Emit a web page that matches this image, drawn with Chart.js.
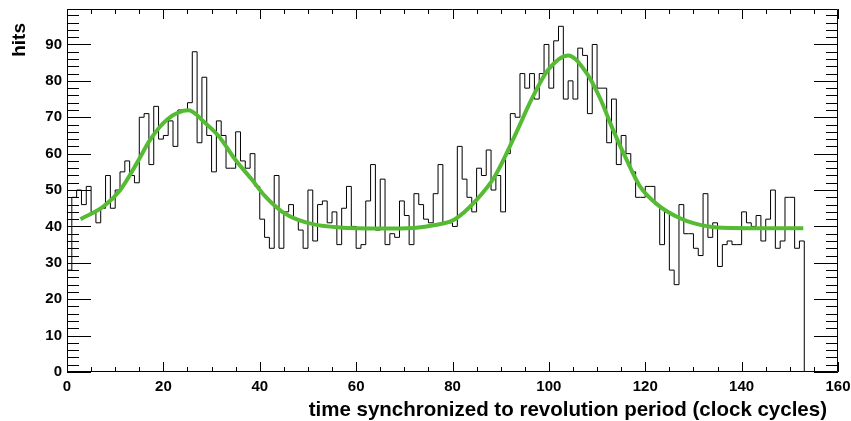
<!DOCTYPE html>
<html>
<head>
<meta charset="utf-8">
<script src="https://cdn.jsdelivr.net/npm/chart.js@4.4.1/dist/chart.umd.min.js"></script>
<style>
  html, body { margin: 0; padding: 0; background: #fff; }
</style>
</head>
<body>
<canvas id="hits" width="851" height="421"></canvas>
<script>
// hits per clock-cycle bin (bin i covers [i, i+1))
const counts = [
  21, 28, 48, 50, 46, 51, 44, 41, 45, 54,
  45, 50, 55, 58, 54, 52, 70, 71, 57, 73,
  64, 65, 69, 62, 72, 72, 74, 88, 63, 81,
  65, 55, 69, 65, 56, 56, 66, 58, 56, 60,
  51, 42, 37, 34, 54, 34, 44, 46, 42, 39,
  34, 50, 36, 46, 47, 41, 44, 35, 45, 51,
  40, 34, 35, 47, 57, 39, 53, 35, 38, 37,
  47, 43, 35, 49, 46, 42, 41, 49, 57, 41,
  41, 40, 62, 53, 48, 44, 56, 54, 61, 50,
  54, 44, 60, 71, 70, 82, 78, 82, 75, 82,
  90, 78, 91, 95, 75, 80, 75, 89, 87, 71,
  90, 78, 78, 63, 75, 57, 65, 60, 55, 48,
  48, 51, 51, 46, 35, 44, 28, 24, 46, 38,
  38, 34, 32, 49, 37, 41, 29, 35, 36, 35,
  35, 44, 41, 40, 43, 36, 42, 50, 34, 36,
  48, 48, 34, 36
];

// fitted curve
const fitX = [2.8, 7.6, 11.1, 14.5, 17.3, 20.8, 25.2, 28.7, 31.5, 34.9, 38.4, 41.1, 44.6, 48, 51.5, 56, 65, 72,
  76.4, 80.5, 84.7, 88.8, 92.9, 96.4, 99.9, 104, 107.8, 110.6, 113.3, 116.1, 118.9, 123, 127.1, 130, 135, 145, 152.8];
const fitY = [42.0, 45.5, 50.1, 57.4, 63.9, 69.4, 71.9, 68.4, 64.8, 58.4, 52.8, 48.3, 44.1, 41.8, 40.5, 39.8, 39.4, 39.6,
  40.4, 42.0, 46.9, 53.8, 64.8, 74.9, 83.1, 87.0, 82.2, 75.3, 66.6, 58.4, 51.0, 45.5, 42.3, 40.9, 39.7, 39.5, 39.5];

const xTicks = [0, 20, 40, 60, 80, 100, 120, 140, 160];
const yTicks = [0, 10, 20, 30, 40, 50, 60, 70, 80, 90];

const histPoints = counts.map((v, i) => ({x: i, y: v}));
histPoints.push({x: counts.length, y: 0});
const fitPoints = fitX.map((x, i) => ({x: x, y: fitY[i]}));

const FONT = '"Liberation Sans", Arial, Helvetica, sans-serif';

// ROOT-like frame with ticks on all four sides, plus axis titles
const frame = {
  id: 'frame',
  afterDatasetsDraw(chart) {
    const {ctx, chartArea: a, scales: {x, y}} = chart;
    ctx.save();
    ctx.strokeStyle = '#000';
    ctx.lineWidth = 1;
    ctx.beginPath();
    ctx.rect(Math.round(a.left) + 0.5, Math.round(a.top) + 0.5,
             Math.round(a.width) - 1, Math.round(a.height) - 1);
    for (let v = 0; v <= 160; v += 5) {
      const px = Math.round(x.getPixelForValue(v)) + 0.5;
      const len = v % 20 === 0 ? 10 : 5;
      ctx.moveTo(px, a.bottom); ctx.lineTo(px, a.bottom - len);
      ctx.moveTo(px, a.top); ctx.lineTo(px, a.top + len);
    }
    for (let v = 0; v <= 98; v += 2) {
      const py = Math.round(y.getPixelForValue(v)) + 0.5;
      const len = v % 10 === 0 ? 24 : 12;
      ctx.moveTo(a.left, py); ctx.lineTo(a.left + len, py);
      ctx.moveTo(a.right, py); ctx.lineTo(a.right - len, py);
    }
    ctx.stroke();

    ctx.fillStyle = '#000';
    ctx.textAlign = 'right';
    ctx.textBaseline = 'alphabetic';
    ctx.font = 'bold 20.5px ' + FONT;
    ctx.fillText('time synchronized to revolution period (clock cycles)', 827, 416);

    ctx.font = 'bold 19px ' + FONT;
    ctx.translate(25, 23);
    ctx.rotate(-Math.PI / 2);
    ctx.fillText('hits', 0, 0);
    ctx.restore();
  }
};

const noPad = s => { s.paddingLeft = 0; s.paddingRight = 0; s.paddingTop = 0; s.paddingBottom = 0; };

new Chart(document.getElementById('hits'), {
  type: 'line',
  data: {
    datasets: [{
      label: 'fit',
      data: fitPoints,
      borderColor: '#55bb33',
      borderWidth: 4,
      pointRadius: 0,
      cubicInterpolationMode: 'monotone',
      fill: false,
      order: 0
    }, {
      label: 'hits',
      data: histPoints,
      borderColor: '#000',
      borderWidth: 1,
      pointRadius: 0,
      stepped: 'after',
      fill: false,
      order: 1
    }]
  },
  options: {
    responsive: false,
    animation: false,
    devicePixelRatio: 1,
    layout: { padding: { left: 0, right: 13, top: 9, bottom: 0 } },
    plugins: { legend: { display: false }, tooltip: { enabled: false } },
    scales: {
      x: {
        type: 'linear',
        min: 0,
        max: 160,
        grid: { display: false, drawTicks: false },
        border: { display: false },
        afterBuildTicks: s => { s.ticks = xTicks.map(v => ({value: v})); },
        afterFit: s => { s.height = 49; noPad(s); },
        ticks: { color: '#000', padding: 6, maxRotation: 0, font: { family: FONT, size: 15, weight: 'bold' } }
      },
      y: {
        min: 0,
        max: 99.75,
        grid: { display: false, drawTicks: false },
        border: { display: false },
        afterBuildTicks: s => { s.ticks = yTicks.map(v => ({value: v})); },
        afterFit: s => { s.width = 67; noPad(s); },
        ticks: { color: '#000', padding: 5, font: { family: FONT, size: 15, weight: 'bold' } }
      }
    }
  },
  plugins: [frame]
});
</script>
</body>
</html>
